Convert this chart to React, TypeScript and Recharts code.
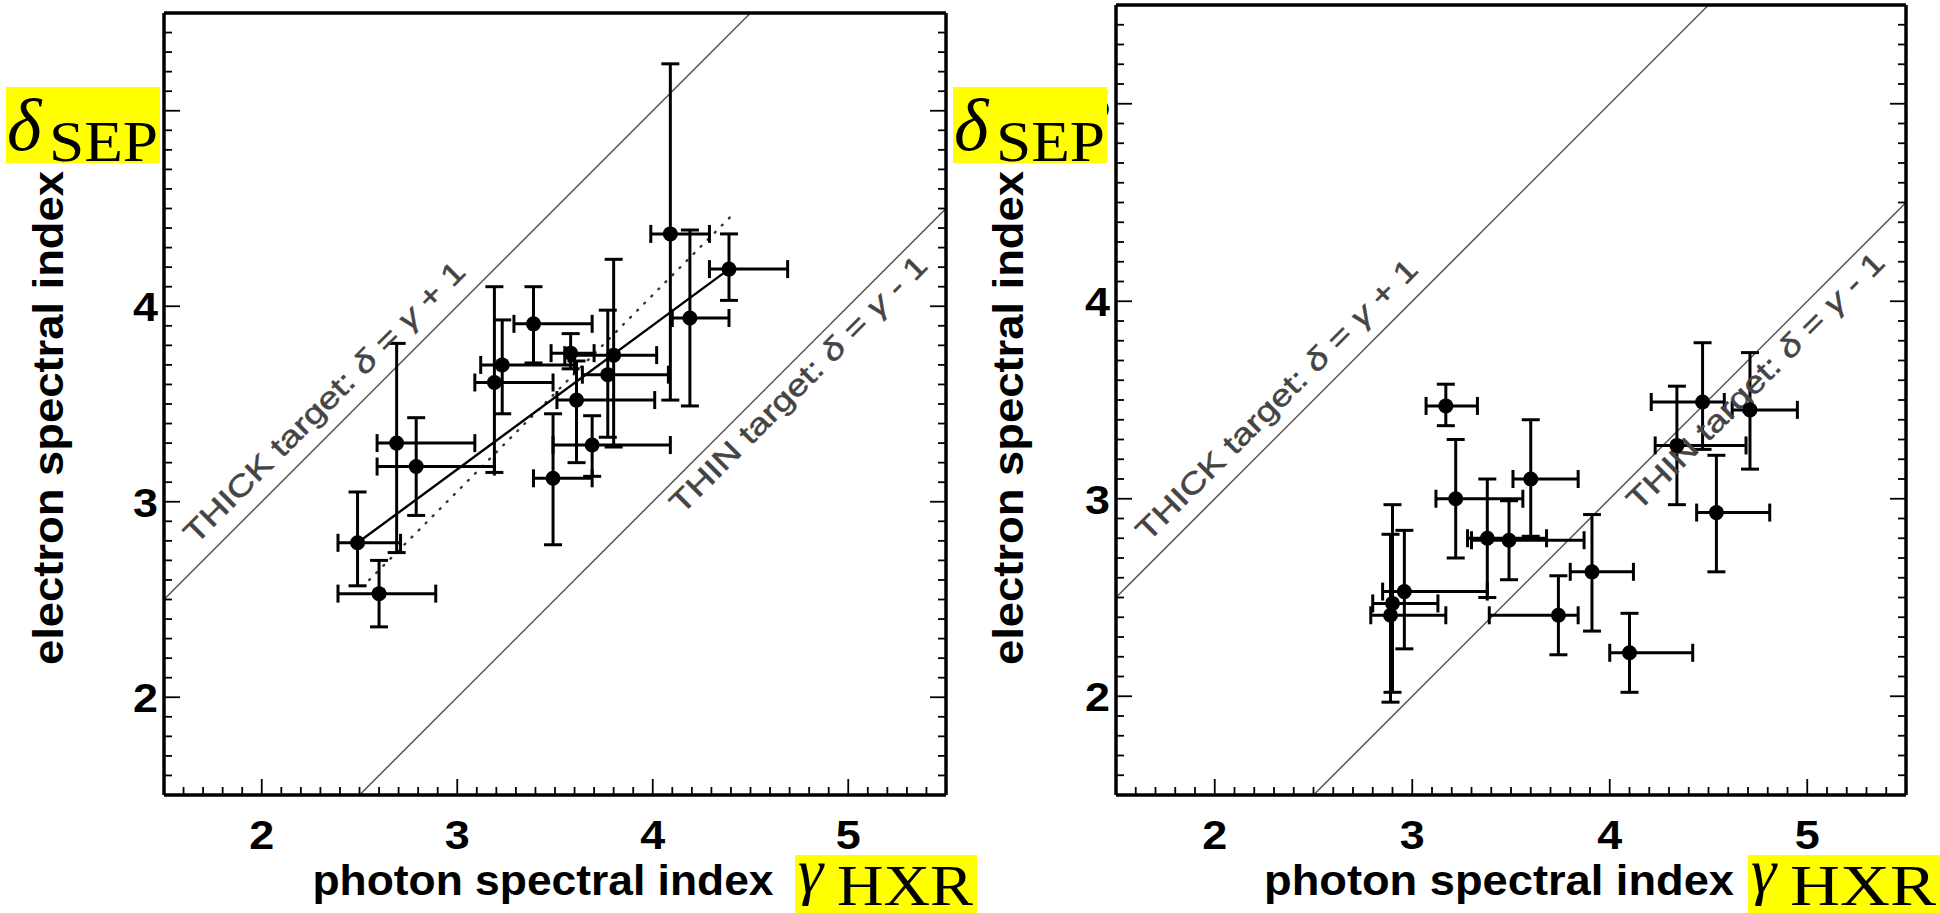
import React from 'react';
import { ScatterChart, Scatter, XAxis, YAxis, ErrorBar, ReferenceLine, ReferenceDot } from 'recharts';

// left panel: photon index (gamma), electron index (delta) and their error limits
const leftGamma = [2.49, 2.6, 2.69, 2.79, 3.19, 3.23, 3.39, 3.49, 3.58, 3.61, 3.69, 3.77, 3.8, 4.09, 4.19, 4.39];
const leftDelta = [2.79, 2.53, 3.3, 3.18, 3.61, 3.7, 3.91, 3.12, 3.76, 3.52, 3.29, 3.65, 3.75, 4.37, 3.94, 4.19];
const leftGammaLo = [2.39, 2.39, 2.59, 2.59, 3.09, 3.12, 3.29, 3.39, 3.48, 3.51, 3.49, 3.64, 3.55, 3.99, 4.1, 4.29];
const leftGammaHi = [2.71, 2.89, 3.09, 3.19, 3.49, 3.6, 3.69, 3.69, 3.7, 4.01, 4.09, 4.08, 4.02, 4.29, 4.39, 4.69];
const leftDeltaLo = [2.57, 2.36, 2.74, 2.93, 3.15, 3.45, 3.71, 2.78, 3.68, 3.2, 3.13, 3.33, 3.28, 3.52, 3.49, 4.03];
const leftDeltaHi = [3.05, 2.7, 3.81, 3.43, 4.1, 3.93, 4.1, 3.45, 3.86, 3.72, 3.44, 3.98, 4.24, 5.24, 4.39, 4.37];

// right panel
const rightGamma = [2.89, 2.9, 2.96, 3.17, 3.22, 3.38, 3.49, 3.6, 3.74, 3.91, 4.1, 4.34, 4.47, 4.54, 4.71];
const rightDelta = [2.41, 2.47, 2.53, 3.47, 3.0, 2.8, 2.79, 3.1, 2.41, 2.63, 2.22, 3.27, 3.49, 2.93, 3.45];
const rightGammaLo = [2.79, 2.8, 2.85, 3.07, 3.12, 3.28, 3.3, 3.51, 3.39, 3.8, 4.0, 4.23, 4.21, 4.44, 4.62];
const rightGammaHi = [3.17, 3.13, 3.38, 3.33, 3.56, 3.68, 3.87, 3.84, 3.84, 4.12, 4.42, 4.69, 4.58, 4.81, 4.95];
const rightDeltaLo = [1.97, 2.02, 2.24, 3.37, 2.7, 2.5, 2.59, 2.81, 2.21, 2.33, 2.02, 2.97, 3.25, 2.63, 3.15];
const rightDeltaHi = [2.82, 2.97, 2.84, 3.58, 3.3, 3.1, 2.99, 3.4, 2.61, 2.92, 2.42, 3.57, 3.79, 3.22, 3.74];

// reference lines (gamma, delta end points)
const thickLine = [[1.5, 2.5], [4.5, 5.5]];
const thinLine = [[2.5, 1.5], [5.5, 4.5]];
const fitLine = [[2.49, 2.79], [4.39, 4.19]];
const dottedLine = [[2.55, 2.6], [4.4, 4.46]];

const domain: [number, number] = [1.5, 5.5];
const majorTicks = [2, 3, 4, 5];
const tickLabels = ['2', '3', '4', '5'];

const minorTicks: number[] = [];
for (let i = 16; i <= 54; i++) minorTicks.push(i / 10);

const SANS = '"Liberation Sans", Arial, Helvetica, sans-serif';
const SERIF = '"Liberation Serif", "DejaVu Serif", serif';

const labelOf = (v: number) => {
  const i = majorTicks.findIndex((m) => Math.abs(m - v) < 1e-6);
  return i >= 0 ? tickLabels[i] : null;
};

const tickLen = (v: number) => (labelOf(v) ? 16 : 8);

const BottomTick = (p: any) => {
  const v = p.payload.value;
  const lab = labelOf(v);
  return (
    <g>
      <line x1={p.x} x2={p.x} y1={p.y} y2={p.y - tickLen(v)} stroke="#000" strokeWidth={1.8} />
      {lab && (
        <text x={p.x} y={p.y + 54} textAnchor="middle" fontFamily={SANS} fontWeight="bold" fontSize={41}
          textLength={25} lengthAdjust="spacingAndGlyphs" fill="#000">{lab}</text>
      )}
    </g>
  );
};

const TopTick = (p: any) => (
  <line x1={p.x} x2={p.x} y1={p.y} y2={p.y + tickLen(p.payload.value)} stroke="#000" strokeWidth={1.8} />
);

const LeftTick = (p: any) => {
  const v = p.payload.value;
  const lab = labelOf(v);
  return (
    <g>
      <line x1={p.x} x2={p.x + tickLen(v)} y1={p.y} y2={p.y} stroke="#000" strokeWidth={1.8} />
      {lab && (
        <text x={p.x - 6} y={p.y + 15} textAnchor="end" fontFamily={SANS} fontWeight="bold" fontSize={41}
          textLength={25} lengthAdjust="spacingAndGlyphs" fill="#000">{lab}</text>
      )}
    </g>
  );
};

const RightTick = (p: any) => (
  <line x1={p.x} x2={p.x - tickLen(p.payload.value)} y1={p.y} y2={p.y} stroke="#000" strokeWidth={1.8} />
);

const Dot = (p: any) => <circle cx={p.cx} cy={p.cy} r={7.5} fill="#000" />;

// rotated annotation text; off > 0 shifts up-left of the line, off < 0 down-right
const diagLabel = (head: string, sign: string, off: number, len: number) => (p: any) => {
  const d = off / Math.SQRT2;
  const x = p.cx - d;
  const y = p.cy - d;
  return (
    <text x={x} y={y} transform={`rotate(-45 ${x} ${y})`} fontFamily={SANS} fontSize={30} fill="#444"
      stroke="#444" strokeWidth={0.5} textLength={len} lengthAdjust="spacingAndGlyphs">
      {head} target: <tspan fontStyle="italic">δ</tspan> = <tspan fontStyle="italic">γ</tspan> {sign} 1
    </text>
  );
};

const seg = (l: number[][]) => [{ x: l[0][0], y: l[0][1] }, { x: l[1][0], y: l[1][1] }];

function buildRows(g: number[], d: number[], gLo: number[], gHi: number[], dLo: number[], dHi: number[]) {
  return g.map((v, i) => ({
    x: v,
    y: d[i],
    ex: [v - gLo[i], gHi[i] - v],
    ey: [d[i] - dLo[i], dHi[i] - d[i]],
  }));
}

const leftRows = buildRows(leftGamma, leftDelta, leftGammaLo, leftGammaHi, leftDeltaLo, leftDeltaHi);
const rightRows = buildRows(rightGamma, rightDelta, rightGammaLo, rightGammaHi, rightDeltaLo, rightDeltaHi);

function Panel({ rows, margin, withFit }: { rows: any[]; margin: any; withFit: boolean }) {
  const frame = { stroke: '#000', strokeWidth: 3.5 };
  return (
    <ScatterChart width={970} height={913} margin={margin}>
      <XAxis xAxisId="b" orientation="bottom" type="number" dataKey="x" domain={domain} allowDataOverflow
        ticks={minorTicks} interval={0} tick={<BottomTick />} tickLine={false} tickSize={0} tickMargin={0}
        axisLine={frame} height={30} />
      <XAxis xAxisId="t" orientation="top" type="number" domain={domain} allowDataOverflow
        ticks={minorTicks} interval={0} tick={<TopTick />} tickLine={false} tickSize={0} tickMargin={0}
        axisLine={frame} height={4} />
      <YAxis yAxisId="l" orientation="left" type="number" dataKey="y" domain={domain} allowDataOverflow
        ticks={minorTicks} interval={0} tick={<LeftTick />} tickLine={false} tickSize={0} tickMargin={0}
        axisLine={frame} width={60} />
      <YAxis yAxisId="r" orientation="right" type="number" domain={domain} allowDataOverflow
        ticks={minorTicks} interval={0} tick={<RightTick />} tickLine={false} tickSize={0} tickMargin={0}
        axisLine={frame} width={4} />
      <ReferenceLine xAxisId="b" yAxisId="l" segment={seg(thickLine)} stroke="#555" strokeWidth={1.5} ifOverflow="visible" />
      <ReferenceLine xAxisId="b" yAxisId="l" segment={seg(thinLine)} stroke="#555" strokeWidth={1.5} ifOverflow="visible" />
      {withFit && (
        <ReferenceLine xAxisId="b" yAxisId="l" segment={seg(dottedLine)} stroke="#333" strokeWidth={2.4}
          strokeDasharray="1 9" strokeLinecap="round" ifOverflow="visible" />
      )}
      {withFit && (
        <ReferenceLine xAxisId="b" yAxisId="l" segment={seg(fitLine)} stroke="#000" strokeWidth={2.4} ifOverflow="visible" />
      )}
      <ReferenceDot xAxisId="b" yAxisId="l" x={1.72} y={2.72} ifOverflow="visible"
        shape={diagLabel('THICK', '+', 16, 384)} />
      <ReferenceDot xAxisId="b" yAxisId="l" x={4.04} y={3.04} ifOverflow="visible"
        shape={diagLabel('THIN', '-', -30, 350)} />
      <Scatter xAxisId="b" yAxisId="l" data={rows} shape={<Dot />} isAnimationActive={false}>
        <ErrorBar dataKey="ex" direction="x" width={9} stroke="#000" strokeWidth={3} isAnimationActive={false} />
        <ErrorBar dataKey="ey" direction="y" width={9} stroke="#000" strokeWidth={3} isAnimationActive={false} />
      </Scatter>
    </ScatterChart>
  );
}

function DeltaBox({ x }: { x: number }) {
  return (
    <g>
      <rect x={x} y={87} width={154} height={76} fill="#ffff00" />
      <text x={x + 1} y={150} fontFamily={SERIF} fontStyle="italic" fontSize={74} fill="#000">δ</text>
      <text x={x + 43} y={161} fontFamily={SERIF} fontSize={58} fill="#000" textLength={109}
        lengthAdjust="spacingAndGlyphs">SEP</text>
    </g>
  );
}

function GammaBox({ x, w }: { x: number; w: number }) {
  return (
    <g>
      <rect x={x} y={855} width={w} height={58} fill="#ffff00" />
      <text x={x + 3} y={892} fontFamily={SERIF} fontStyle="italic" fontSize={64} fill="#000">γ</text>
      <text x={x + 42} y={905} fontFamily={SERIF} fontSize={56} fill="#000" textLength={w - 46}
        lengthAdjust="spacingAndGlyphs">HXR</text>
    </g>
  );
}

export default function App() {
  return (
    <div style={{ position: 'absolute', left: 0, top: 0, width: 1940, height: 913, background: '#fff', overflow: 'hidden' }}>
      <div style={{ position: 'absolute', left: 0, top: 0 }}>
        <Panel rows={leftRows} withFit margin={{ top: 9, right: 20, bottom: 88, left: 104 }} />
      </div>
      <div style={{ position: 'absolute', left: 970, top: 0 }}>
        <Panel rows={rightRows} withFit={false} margin={{ top: 1, right: 30, bottom: 88, left: 86 }} />
      </div>
      <svg width={1940} height={913} style={{ position: 'absolute', left: 0, top: 0, pointerEvents: 'none' }}>
        <text transform="rotate(-90)" x={-418} y={63} textAnchor="middle" fontFamily={SANS} fontWeight="bold"
          fontSize={42} textLength={494} lengthAdjust="spacingAndGlyphs" fill="#000">electron spectral index</text>
        <text transform="rotate(-90)" x={-418} y={1023} textAnchor="middle" fontFamily={SANS} fontWeight="bold"
          fontSize={42} textLength={494} lengthAdjust="spacingAndGlyphs" fill="#000">electron spectral index</text>
        <text x={543} y={895} textAnchor="middle" fontFamily={SANS} fontWeight="bold" fontSize={42}
          textLength={461} lengthAdjust="spacingAndGlyphs" fill="#000">photon spectral index</text>
        <text x={1499} y={895} textAnchor="middle" fontFamily={SANS} fontWeight="bold" fontSize={42}
          textLength={470} lengthAdjust="spacingAndGlyphs" fill="#000">photon spectral index</text>
        <DeltaBox x={6} />
        <DeltaBox x={953} />
        <GammaBox x={795} w={182} />
        <GammaBox x={1748} w={192} />
      </svg>
    </div>
  );
}
